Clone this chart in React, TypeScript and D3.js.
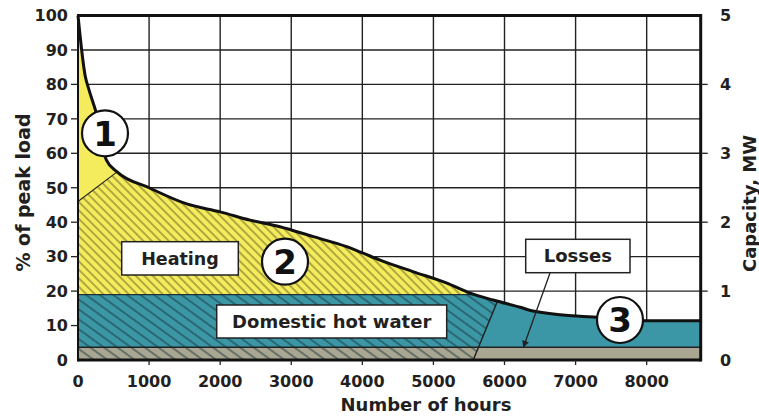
import React from "react";
import * as d3 from "d3";

// ---- data ----
const hours = [0, 100, 155, 260, 400, 550, 1000, 1530, 2000, 2420, 2840, 3310, 3780, 4010, 4250, 4720, 5190, 5470, 5840, 6220, 6400, 7060, 7300, 7650, 7950, 8760];
const loadPct = [100, 82.6, 78.4, 71.5, 58, 54.6, 50, 45.3, 43, 40.6, 38.7, 35.8, 32.9, 31, 29, 25.6, 22.3, 19.8, 17.4, 15.3, 14.2, 12.7, 12.4, 11.7, 11.4, 11.4];
const peakSplitStart = 46; // % at 0 h
const peakSplitHour = 550; // h where split meets the curve
const dhwLevel = 19; // %
const lossLevel = 3.7; // %
const summerBottomHour = 5560;
const summerTopHour = 5900;
const leftTicks = [0, 10, 20, 30, 40, 50, 60, 70, 80, 90, 100];
const bottomTicks = [0, 1000, 2000, 3000, 4000, 5000, 6000, 7000, 8000];
const rightTicks = [0, 1, 2, 3, 4, 5];

const W = 759, H = 419;
const FONT = "'DejaVu Sans', sans-serif";
const INK = "#231f20";

export default function App() {
  const x = d3.scaleLinear().domain([0, 8760]).range([78, 700.7]);
  const y = d3.scaleLinear().domain([0, 100]).range([360, 15.5]);
  const yR = d3.scaleLinear().domain([0, 5]).range([360, 15.5]);

  const pts: [number, number][] = hours.map((h, i) => [h, loadPct[i]]);
  const interp = (h: number) => {
    for (let i = 1; i < pts.length; i++) {
      if (h <= pts[i][0]) {
        const [h0, v0] = pts[i - 1];
        const [h1, v1] = pts[i];
        return v0 + ((v1 - v0) * (h - h0)) / (h1 - h0);
      }
    }
    return pts[pts.length - 1][1];
  };

  const area = d3.area<[number, number]>().x((d) => x(d[0])).y0(y(0)).y1((d) => y(d[1])).curve(d3.curveMonotoneX);
  const smooth = d3.line<[number, number]>().x((d) => x(d[0])).y((d) => y(d[1])).curve(d3.curveMonotoneX);
  const poly = d3.line<[number, number]>().x((d) => x(d[0])).y((d) => y(d[1]));
  const areaPath = area(pts) || "";
  const curvePath = smooth(pts) || "";

  const splitEndV = interp(peakSplitHour);
  const belowSplit: [number, number][] = [
    [0, 0],
    [0, peakSplitStart],
    [peakSplitHour, splitEndV],
    [peakSplitHour, 100],
    [8760, 100],
    [8760, 0],
  ];
  const belowSplitPath = (poly(belowSplit) || "") + "Z";

  const summerTopV = interp(summerTopHour);
  const k = 40 / summerTopV;
  const leftDiag: [number, number][] = [
    [0, 0],
    [summerBottomHour, 0],
    [summerBottomHour + (summerTopHour - summerBottomHour) * k, 40],
    [0, 40],
  ];
  const leftDiagPath = (poly(leftDiag) || "") + "Z";

  const x0 = x(0), x1 = x(8760), yTop = y(100), yBot = y(0);

  return (
    <svg width={W} height={H} style={{ position: "absolute", left: 0, top: 0, background: "#fff" }} fontFamily={FONT}>
      <defs>
        <clipPath id="curveClip"><path d={areaPath} /></clipPath>
        <clipPath id="aboveDhw"><rect x={x0} y={yTop} width={x1 - x0} height={y(dhwLevel) - yTop} /></clipPath>
        <clipPath id="belowSplit"><path d={belowSplitPath} /></clipPath>
        <clipPath id="leftDiag"><path d={leftDiagPath} /></clipPath>
        <pattern id="hatchY" width="6" height="6" patternUnits="userSpaceOnUse" patternTransform="rotate(-45)">
          <line x1="3" y1="0" x2="3" y2="6" stroke="#4f4b1c" strokeWidth="0.85" />
        </pattern>
        <pattern id="hatchT" width="8" height="8" patternUnits="userSpaceOnUse" patternTransform="rotate(-54)">
          <line x1="4" y1="0" x2="4" y2="8" stroke="#142e35" strokeWidth="0.9" />
        </pattern>
        <marker id="arrow" viewBox="0 0 10 10" refX="9" refY="5" markerWidth="7" markerHeight="9" orient="auto" markerUnits="userSpaceOnUse">
          <path d="M0,0 L10,5 L0,10 Z" fill={INK} />
        </marker>
      </defs>

      {/* grid */}
      {bottomTicks.filter((t) => t > 0).map((t) => (
        <line key={"gx" + t} x1={x(t)} x2={x(t)} y1={yTop} y2={yBot} stroke="#222" strokeWidth={1.4} />
      ))}
      {leftTicks.filter((t) => t > 0 && t < 100).map((t) => (
        <line key={"gy" + t} x1={x0} x2={x1} y1={y(t)} y2={y(t)} stroke="#222" strokeWidth={1.4} />
      ))}

      {/* fills */}
      <path d={areaPath} fill="#f4ec5c" />
      <rect x={x0} y={y(dhwLevel)} width={x1 - x0} height={yBot - y(dhwLevel)} fill="#3b97a6" clipPath="url(#curveClip)" />
      <rect x={x0} y={y(lossLevel)} width={x1 - x0} height={yBot - y(lossLevel)} fill="#a9a691" />

      {/* hatches */}
      <g clipPath="url(#aboveDhw)">
        <g clipPath="url(#belowSplit)">
          <rect x={x0} y={yTop} width={x1 - x0} height={y(dhwLevel) - yTop} fill="url(#hatchY)" clipPath="url(#curveClip)" />
        </g>
      </g>
      <g clipPath="url(#leftDiag)">
        <rect x={x0} y={y(dhwLevel)} width={x1 - x0} height={yBot - y(dhwLevel)} fill="url(#hatchT)" clipPath="url(#curveClip)" />
      </g>

      {/* boundary lines */}
      <line x1={x(0)} y1={y(peakSplitStart)} x2={x(peakSplitHour)} y2={y(splitEndV)} stroke="#222" strokeWidth={1.1} />
      <g clipPath="url(#curveClip)">
        <line x1={x0} x2={x1} y1={y(dhwLevel)} y2={y(dhwLevel)} stroke="#1c3138" strokeWidth={1.3} />
      </g>
      <line x1={x0} x2={x1} y1={y(lossLevel)} y2={y(lossLevel)} stroke="#222" strokeWidth={1.5} />
      <line x1={x(summerBottomHour)} y1={y(0)} x2={x(summerTopHour)} y2={y(summerTopV)} stroke="#222" strokeWidth={1.5} />

      {/* load curve */}
      <path d={curvePath} fill="none" stroke="#111" strokeWidth={3} strokeLinejoin="round" />

      {/* frame */}
      <line x1={x0} x2={x1} y1={yTop} y2={yTop} stroke="#111" strokeWidth={3} />
      <line x1={x0} x2={x1} y1={yBot} y2={yBot} stroke="#111" strokeWidth={3} />
      <line x1={x1} x2={x1} y1={yTop - 1.5} y2={yBot + 1.5} stroke="#111" strokeWidth={3} />
      <line x1={x0} x2={x0} y1={yTop - 1.5} y2={yBot + 1.5} stroke="#111" strokeWidth={2} />

      {/* ticks */}
      {leftTicks.filter((t) => t > 0 && t < 100).map((t) => (
        <line key={"lt" + t} x1={x0 - 7} x2={x0} y1={y(t)} y2={y(t)} stroke="#222" strokeWidth={1.3} />
      ))}
      {bottomTicks.filter((t) => t > 0).map((t) => (
        <line key={"bt" + t} x1={x(t)} x2={x(t)} y1={yBot} y2={yBot + 5} stroke="#222" strokeWidth={1.3} />
      ))}
      {rightTicks.filter((t) => t > 0 && t < 5).map((t) => (
        <line key={"rt" + t} x1={x1} x2={x1 + 7} y1={yR(t)} y2={yR(t)} stroke="#222" strokeWidth={1.3} />
      ))}

      {/* tick labels */}
      <g fontSize={16} fontWeight="bold" fill={INK}>
        {leftTicks.map((t) => (
          <text key={"ll" + t} x={68} y={y(t)} dy="0.36em" textAnchor="end">{t}</text>
        ))}
        {bottomTicks.map((t) => (
          <text key={"bl" + t} x={x(t)} y={387} textAnchor="middle">{t}</text>
        ))}
        {rightTicks.map((t) => (
          <text key={"rl" + t} x={720} y={yR(t)} dy="0.36em" textAnchor="start">{t}</text>
        ))}
      </g>

      {/* axis titles */}
      <g fontWeight="bold" fill={INK}>
        <text x={426} y={411} fontSize={18} textAnchor="middle">Number of hours</text>
        <text transform="translate(23,192.5) rotate(-90)" fontSize={19} textAnchor="middle" dy="0.36em">% of peak load</text>
        <text transform="translate(750,203.5) rotate(-90)" fontSize={18} textAnchor="middle" dy="0.36em">Capacity, MW</text>
      </g>

      {/* labels */}
      <g fontWeight="bold" fill={INK} fontSize={17.5}>
        <rect x={121.7} y={241.7} width={116.6} height={33.3} fill="#fff" stroke="#222" strokeWidth={1.5} />
        <text x={180} y={258.3} dy="0.36em" textAnchor="middle">Heating</text>
        <rect x={216.7} y={305} width={230} height={33} fill="#fff" stroke="#222" strokeWidth={1.5} />
        <text x={331.7} y={321.5} dy="0.36em" textAnchor="middle" fontSize={18}>Domestic hot water</text>
        <rect x={525.7} y={239.3} width={104.3} height={33.4} fill="#fff" stroke="#222" strokeWidth={1.5} />
        <text x={577.8} y={256} dy="0.36em" textAnchor="middle" fontSize={18}>Losses</text>
      </g>
      <line x1={550} y1={273} x2={523.5} y2={347} stroke={INK} strokeWidth={1.3} markerEnd="url(#arrow)" />

      {/* numbered circles */}
      {[
        { n: "1", cx: 105, cy: 133.3 },
        { n: "2", cx: 285, cy: 261.7 },
        { n: "3", cx: 620, cy: 320 },
      ].map((c) => (
        <g key={c.n}>
          <circle cx={c.cx} cy={c.cy} r={23} fill="#fff" stroke="#111" strokeWidth={2.2} />
          <text x={c.cx} y={c.cy} dy="0.36em" textAnchor="middle" fontSize={34} fontWeight="bold" fill="#111">{c.n}</text>
        </g>
      ))}
    </svg>
  );
}
